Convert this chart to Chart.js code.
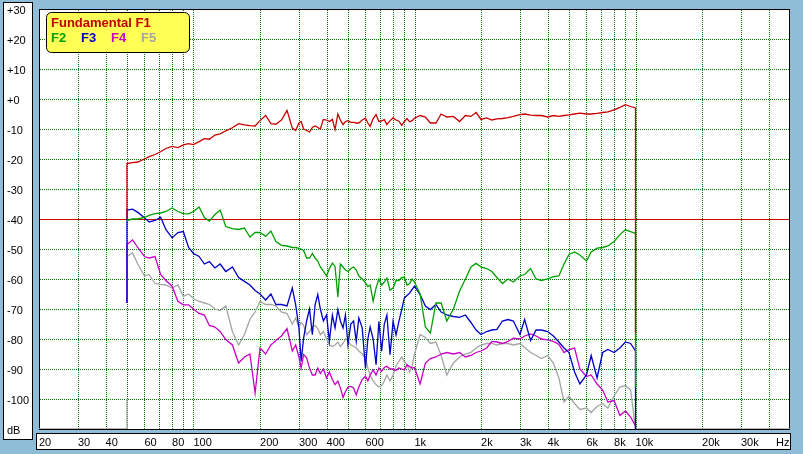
<!DOCTYPE html>
<html><head><meta charset="utf-8">
<script src="https://cdn.jsdelivr.net/npm/chart.js@4/dist/chart.umd.min.js"></script>
<style>html,body{margin:0;padding:0;background:#8FBDD7;overflow:hidden}canvas{display:block}</style>
</head><body>
<canvas id="c" width="803" height="454"></canvas>
<script>
// ---- data (Hz / dB) ----
const freqs = [
  50,53,56,60,63,67,71,75,80,85,90,95,
  100,106,112,118,125,132,140,150,160,170,180,190,
  200,212,224,236,250,265,
  280,290,300,307,315,325,335,345,355,365,375,387,400,412,425,
  437,450,462,475,487,500,515,530,545,560,580,600,615,630,650,
  670,690,710,730,750,775,800,825,850,875,900,925,950,975,1000,
  1060,1120,1180,1250,1320,1400,1500,1600,1700,1800,1900,
  2000,2120,2240,2360,2500,2650,2800,3000,3150,3350,3550,3750,
  4000,4250,4500,4750,5000,5300,5600,6000,6300,6700,7100,7500,
  8000,8500,9000,9500,10000];

const f1 = [
  -21.5,-21.2,-21.0,-20.0,-19.2,-18.5,-17.6,-16.5,-15.8,-16.2,-15.3,-14.9,
  -15.2,-14.2,-13.2,-13.4,-12.0,-11.6,-10.6,-9.6,-8.2,-8.6,-8.9,-9.0,
  -7.2,-5.5,-8.2,-8.4,-7.0,-3.8,
  -9.7,-10.5,-8.0,-7.5,-10.0,-10.5,-11.0,-9.5,-9.0,-9.5,-10.0,-6.8,-7.0,-7.5,-6.8,
  -10.2,-5.0,-7.0,-8.5,-7.5,-7.2,-7.8,-7.8,-8.0,-8.0,-7.0,-6.4,-8.0,-9.1,-6.5,
  -5.2,-7.5,-7.3,-6.9,-8.5,-7.2,-6.3,-7.0,-7.4,-8.8,-7.5,-6.5,-7.6,-7.2,-6.4,
  -5.5,-6.0,-8.0,-8.0,-5.0,-6.0,-5.8,-7.5,-5.5,-5.8,-4.5,
  -6.8,-6.3,-7.0,-6.6,-6.5,-6.2,-5.8,-5.2,-5.0,-5.4,-5.5,-5.5,
  -6.0,-5.5,-5.8,-5.5,-5.3,-5.0,-4.7,-5.0,-5.0,-4.8,-4.5,-4.3,
  -3.6,-2.8,-1.9,-2.5,-3.0];

const f2 = [
  -40.5,-40.0,-40.0,-39.5,-38.8,-38.2,-38.0,-37.5,-36.3,-37.5,-38.2,-38.3,
  -37.5,-36.0,-39.5,-40.7,-38.5,-37.0,-42.5,-43.2,-43.5,-43.0,-46.0,-44.5,
  -44.5,-45.8,-44.0,-47.5,-48.8,-49.0,
  -49.5,-49.5,-49.8,-50.0,-50.5,-53.0,-53.0,-51.5,-53.0,-54.0,-56.0,-57.4,-59.0,-56.5,-54.7,
  -55.8,-66.0,-55.0,-56.0,-57.0,-57.5,-56.5,-56.0,-57.0,-59.0,-60.0,-61.3,-62.5,-62.0,-67.4,
  -63.0,-60.0,-62.0,-61.0,-59.7,-63.7,-63.0,-60.5,-60.5,-59.5,-59.5,-62.0,-61.5,-60.0,-61.0,
  -65.0,-76.0,-78.0,-68.0,-68.0,-74.0,-70.0,-64.0,-60.0,-56.0,-54.8,
  -56.0,-56.5,-57.5,-59.5,-61.5,-60.0,-61.0,-59.0,-58.5,-56.5,-60.0,-60.5,
  -60.0,-59.2,-59.0,-55.0,-51.8,-51.0,-52.0,-54.0,-51.0,-49.7,-49.5,-49.0,
  -47.5,-45.2,-43.6,-44.2,-44.8];

const f3 = [
  -37.0,-36.7,-37.8,-39.6,-41.0,-40.5,-39.4,-43.5,-46.3,-44.5,-44.2,-49.5,
  -51.5,-52.5,-55.0,-54.2,-56.3,-55.0,-57.5,-56.0,-59.5,-60.8,-62.0,-63.8,
  -65.0,-67.0,-65.0,-68.5,-68.5,-69.0,
  -63.0,-68.6,-76.3,-87.4,-79.7,-74.0,-70.0,-78.6,-68.6,-65.2,-70.0,-74.0,-72.0,-80.8,-72.0,
  -76.3,-70.2,-74.0,-76.3,-72.0,-81.9,-75.0,-74.0,-80.8,-73.0,-76.3,-89.7,-80.0,-76.0,-80.0,
  -88.6,-74.1,-84.1,-75.0,-72.0,-85.2,-74.1,-78.6,-74.1,-70.2,-66.3,-65.5,-64.7,-63.5,-62.4,
  -65.2,-69.0,-70.2,-68.5,-71.0,-72.0,-72.5,-72.8,-72.0,-74.5,-77.0,
  -78.5,-77.5,-77.0,-76.8,-74.0,-73.5,-74.0,-78.5,-73.5,-80.5,-77.0,-77.0,
  -77.5,-79.0,-81.0,-83.0,-84.5,-91.0,-95.0,-92.0,-85.5,-93.0,-84.5,-83.5,
  -84.5,-83.0,-81.0,-81.5,-84.0];

const f4 = [
  -48.5,-47.0,-49.5,-52.5,-53.0,-52.5,-58.5,-60.5,-62.4,-67.4,-68.6,-68.6,
  -70.0,-71.5,-72.0,-75.5,-76.0,-77.5,-80.2,-82.0,-88.0,-86.0,-85.0,-98.0,
  -83.0,-85.0,-82.0,-80.5,-79.0,-76.5,
  -84.0,-82.0,-86.0,-89.7,-85.2,-86.3,-89.7,-92.0,-92.0,-89.7,-91.5,-90.0,-93.0,-91.0,-93.5,
  -95.2,-94.0,-96.3,-99.5,-97.5,-96.0,-95.8,-96.3,-98.6,-96.0,-93.5,-92.4,-94.0,-92.0,-90.3,
  -92.0,-89.7,-90.8,-89.5,-89.1,-90.0,-90.0,-90.5,-89.7,-90.0,-90.3,-88.6,-89.2,-89.7,-89.5,
  -95.0,-88.0,-86.5,-86.0,-85.0,-84.5,-85.0,-84.5,-86.0,-85.5,-84.5,
  -84.0,-83.0,-80.8,-81.0,-81.5,-80.8,-79.7,-80.0,-79.0,-78.3,-79.0,-80.0,
  -80.3,-80.8,-81.8,-84.5,-83.5,-83.0,-90.0,-92.5,-92.0,-95.0,-97.0,-101.0,
  -100.5,-105.5,-104.0,-106.0,-109.0];

const f5 = [
  -52.5,-51.3,-55.0,-59.0,-58.5,-61.5,-61.8,-62.0,-63.0,-62.0,-65.8,-65.0,
  -66.5,-67.5,-68.0,-68.5,-70.0,-70.5,-69.0,-77.5,-82.0,-78.5,-73.5,-71.0,
  -67.5,-68.5,-68.5,-69.0,-71.0,-71.5,
  -75.0,-73.0,-76.0,-74.5,-75.5,-78.6,-77.5,-76.0,-75.5,-76.5,-78.6,-77.5,-80.0,-82.0,-82.5,
  -82.0,-81.0,-82.5,-81.5,-80.0,-80.5,-82.0,-82.4,-83.0,-84.0,-85.0,-86.3,-89.7,-91.9,-94.0,
  -95.2,-96.0,-95.5,-94.0,-92.0,-94.0,-92.0,-89.0,-87.5,-86.0,-87.5,-88.5,-91.0,-89.0,-85.0,
  -78.5,-79.5,-81.5,-81.0,-85.5,-92.0,-88.0,-86.0,-85.0,-84.5,-83.0,
  -82.0,-81.5,-81.5,-82.0,-81.5,-81.5,-82.0,-81.5,-82.8,-84.5,-85.5,-86.5,
  -85.5,-88.0,-93.0,-101.0,-99.0,-101.5,-103.5,-103.0,-104.5,-102.5,-101.5,-103.0,
  -99.0,-96.0,-95.5,-97.0,-110.0];

// level each trace jumps from at the start (50 Hz) and drops to at the end (10 kHz)
const leadIn  = [-40, null, -68, -68, -100];
const tailOut = [-78, -96, -110, -110, -110];
const floorDb = -110;

const seriesNames  = ['F1','F2','F3','F4','F5'];
const seriesColors = ['#C80000','#00A000','#0000C8','#C800C8','#A4A4A4'];

const xTickValues = [20,30,40,60,80,100,200,300,400,600,1000,2000,3000,4000,6000,8000,10000,20000,30000,43200];
const xTickLabels = ['20','30','40','60','80','100','200','300','400','600','1k','2k','3k','4k','6k','8k','10k','20k','30k','Hz'];
const xGridValues = [30,40,50,60,70,80,90,100,200,300,400,500,600,700,800,900,
  1000,2000,3000,4000,5000,6000,7000,8000,9000,10000,20000,30000,40000];
const yTickValues = [30,20,10,0,-10,-20,-30,-40,-50,-60,-70,-80,-90,-100,-110];
const yTickLabels = ['+30','+20','+10','+0','-10','-20','-30','-40','-50','-60','-70','-80','-90','-100','dB'];
const refLineDb = -40;

// ---- build datasets ----
const all = [f1,f2,f3,f4,f5];
const datasets = all.map((vals, i) => {
  const pts = [];
  if (i === 4) { // F5 runs along the floor before the measured band
    pts.push({x:20, y:floorDb}, {x:freqs[0], y:floorDb}, {x:freqs[0], y:leadIn[i]}, {x:freqs[0], y:null});
  } else if (leadIn[i] !== null) {
    pts.push({x:freqs[0], y:leadIn[i]});
  }
  freqs.forEach((f, k) => pts.push({x:f, y:vals[k]}));
  pts.push({x:freqs[freqs.length-1], y:tailOut[i]});
  if (i === 4) pts.push({x:50000, y:floorDb});
  return {
    label: seriesNames[i], data: pts, showLine: true, pointRadius: 0,
    borderColor: seriesColors[i], borderWidth: 1.3, tension: 0, spanGaps: false,
    order: i
  };
});

Chart.defaults.font.family = "'Liberation Sans', Arial, sans-serif";
Chart.defaults.font.size = 11;
Chart.defaults.color = '#000';

const frame = {
  id: 'frame',
  beforeDraw(chart) {
    const ctx = chart.ctx, a = chart.chartArea;
    ctx.save();
    ctx.fillStyle = '#8FBDD7';
    ctx.fillRect(0, 0, chart.width, chart.height);
    ctx.fillStyle = '#fff'; ctx.strokeStyle = '#000'; ctx.lineWidth = 1;
    ctx.fillRect(3, 2, 30, 438); ctx.strokeRect(3.5, 2.5, 29, 437);
    ctx.fillRect(36, 433, 755, 17); ctx.strokeRect(36.5, 433.5, 754, 16);
    ctx.fillRect(a.left, a.top, a.right - a.left, a.bottom - a.top);
    ctx.restore();
  },
  beforeDatasetsDraw(chart) {
    const ctx = chart.ctx, a = chart.chartArea;
    const xs = chart.scales.x, ys = chart.scales.y;
    ctx.save();
    ctx.fillStyle = '#007800';
    xGridValues.forEach(v => {
      const px = Math.round(xs.getPixelForValue(v));
      for (let y = Math.round(a.top) + 1; y < a.bottom; y += 2) ctx.fillRect(px, y, 1, 1);
    });
    yTickValues.forEach(v => {
      if (v === refLineDb || v === 30 || v === -110) return;
      const py = Math.round(ys.getPixelForValue(v));
      for (let x = Math.round(a.left) + 1; x < a.right; x += 2) ctx.fillRect(x, py, 1, 1);
    });
    const ry = Math.round(ys.getPixelForValue(refLineDb));
    ctx.fillStyle = '#D00000';
    ctx.fillRect(Math.round(a.left), ry, Math.round(a.right - a.left), 1);
    ctx.strokeStyle = '#000'; ctx.lineWidth = 1;
    ctx.strokeRect(Math.round(a.left) + 0.5, Math.round(a.top) + 0.5,
                   Math.round(a.right - a.left) - 1, Math.round(a.bottom - a.top));
    ctx.restore();
  },
  afterDatasetsDraw(chart) {
    const ctx = chart.ctx;
    ctx.save();
    ctx.fillStyle = '#FFFF55'; ctx.strokeStyle = '#000'; ctx.lineWidth = 1;
    ctx.beginPath();
    if (ctx.roundRect) ctx.roundRect(46.5, 12.5, 143, 40, 5); else ctx.rect(46.5, 12.5, 143, 40);
    ctx.fill(); ctx.stroke();
    ctx.font = "bold 13px 'Liberation Sans', Arial, sans-serif";
    ctx.textBaseline = 'alphabetic'; ctx.textAlign = 'left';
    ctx.fillStyle = '#C00000';
    ctx.fillText('Fundamental F1', 51, 27);
    const lx = [51, 81, 111, 141];
    for (let i = 1; i < 5; i++) {
      ctx.fillStyle = seriesColors[i];
      ctx.fillText(seriesNames[i], lx[i-1], 42);
    }
    ctx.restore();
  }
};

new Chart(document.getElementById('c'), {
  type: 'scatter',
  data: { datasets },
  options: {
    responsive: false, animation: false, devicePixelRatio: 1,
    layout: { padding: { left: 7, right: 13, top: 9, bottom: 0 } },
    plugins: { legend: { display: false }, tooltip: { enabled: false } },
    scales: {
      x: {
        type: 'logarithmic', min: 20, max: 50000,
        grid: { display: false, drawTicks: false }, border: { display: false },
        afterBuildTicks: s => { s.ticks = xTickValues.map(v => ({ value: v })); },
        afterFit: s => { s.height = 25; },
        ticks: {
          autoSkip: false, maxRotation: 0, minRotation: 0, align: 'start', padding: 7,
          callback: v => { const i = xTickValues.indexOf(v); return i >= 0 ? xTickLabels[i] : ''; }
        }
      },
      y: {
        type: 'linear', min: -110, max: 30,
        grid: { display: false, drawTicks: false }, border: { display: false },
        afterBuildTicks: s => { s.ticks = yTickValues.map(v => ({ value: v })); },
        afterFit: s => { s.width = 32; },
        ticks: {
          autoSkip: false, crossAlign: 'far', labelOffset: 2, padding: 0,
          callback: v => { const i = yTickValues.indexOf(v); return i >= 0 ? yTickLabels[i] : ''; }
        }
      }
    }
  },
  plugins: [frame]
});
</script>
</body></html>
